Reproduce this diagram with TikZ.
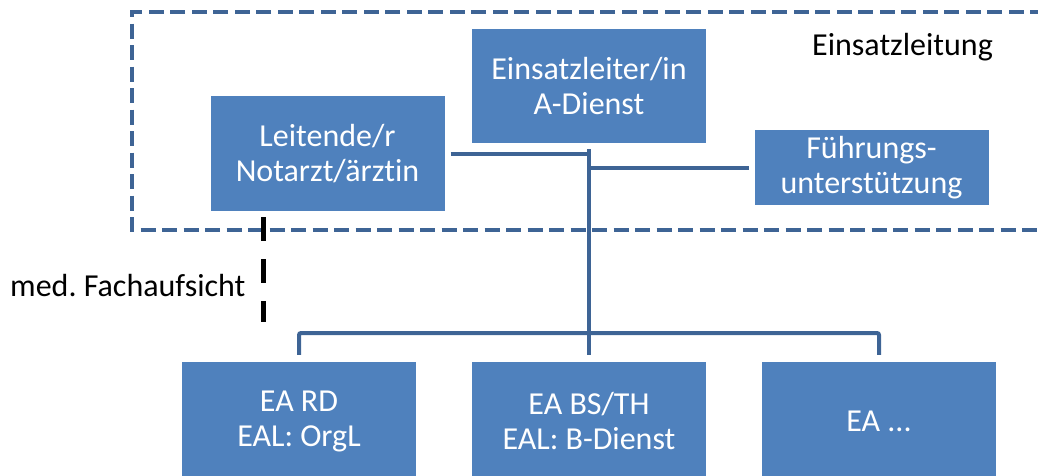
\documentclass[tikz,border=0pt]{standalone}
\usepackage{fontspec}
\setmainfont{Carlito}[Ligatures=NoCommon]
\usetikzlibrary{positioning}
\definecolor{unitfill}{HTML}{4F81BD}
\definecolor{unitline}{HTML}{3E6495}
\frenchspacing

\begin{document}
\begin{tikzpicture}[
    x=1pt, y=-1pt,
    box/.style={fill=unitfill, text=white, align=center, inner sep=0pt, font=\fontsize{32}{35}\selectfont},
    lead/.style={box, minimum width=234pt, minimum height=114pt},
    unit/.style={box, minimum width=234pt, minimum height=118pt},
    conn/.style={draw=unitline, line width=4pt},
    frame/.style={draw=unitline, line width=4.5pt, dash pattern=on 15pt off 6.5pt},
    aufsicht/.style={draw=black, line width=5pt, dash pattern=on 24pt off 18pt},
    note/.style={font=\fontsize{32}{35}\selectfont, inner sep=0pt}
]
\clip (0,0) rectangle (1038,475);
\draw[frame] (1045,12) -- (132,12) -- (132,230) -- (1045,230);
\node[note, anchor=base west] (eltg) at (812,55) {Einsatzleitung};

\node[lead] (el) at (589,86) {Einsatzleiter/in\\A-Dienst};
\node[lead, minimum height=115pt] (lna) at (327.5,153.5) {Leitende/r\\Notarzt/ärztin};
\node[lead, minimum height=75pt] (fu) at (871.5,167.5) {Führungs-\\unterstützung};

\node[unit] (ea1) at (299,421) {EA RD\\EAL: OrgL};
\node[unit] (ea2) at (589,421) {EA BS/TH\\EAL: B-Dienst};
\node[unit] (ea3) at (879,421) {EA ...};

\coordinate (bus) at (589,333);
\coordinate (fa) at (263,322);

\draw[conn] ([xshift=6pt]lna.east) -- (lna.east -| el.south);
\draw[conn] ([yshift=-6pt]el.south) -- ([yshift=7pt]ea2.north);
\draw[conn] (fu.west -| el.south) -- ([xshift=-5pt]fu.west);
\draw[conn, rounded corners=2pt] ([yshift=7pt]ea1.north) |- (bus) -| ([yshift=7pt]ea3.north);

\draw[aufsicht, shorten <=6pt] (lna.south -| fa) -- (fa);
\node[note, anchor=base west] (fach) at (10,296) {med. Fachaufsicht};
\end{tikzpicture}
\end{document}
